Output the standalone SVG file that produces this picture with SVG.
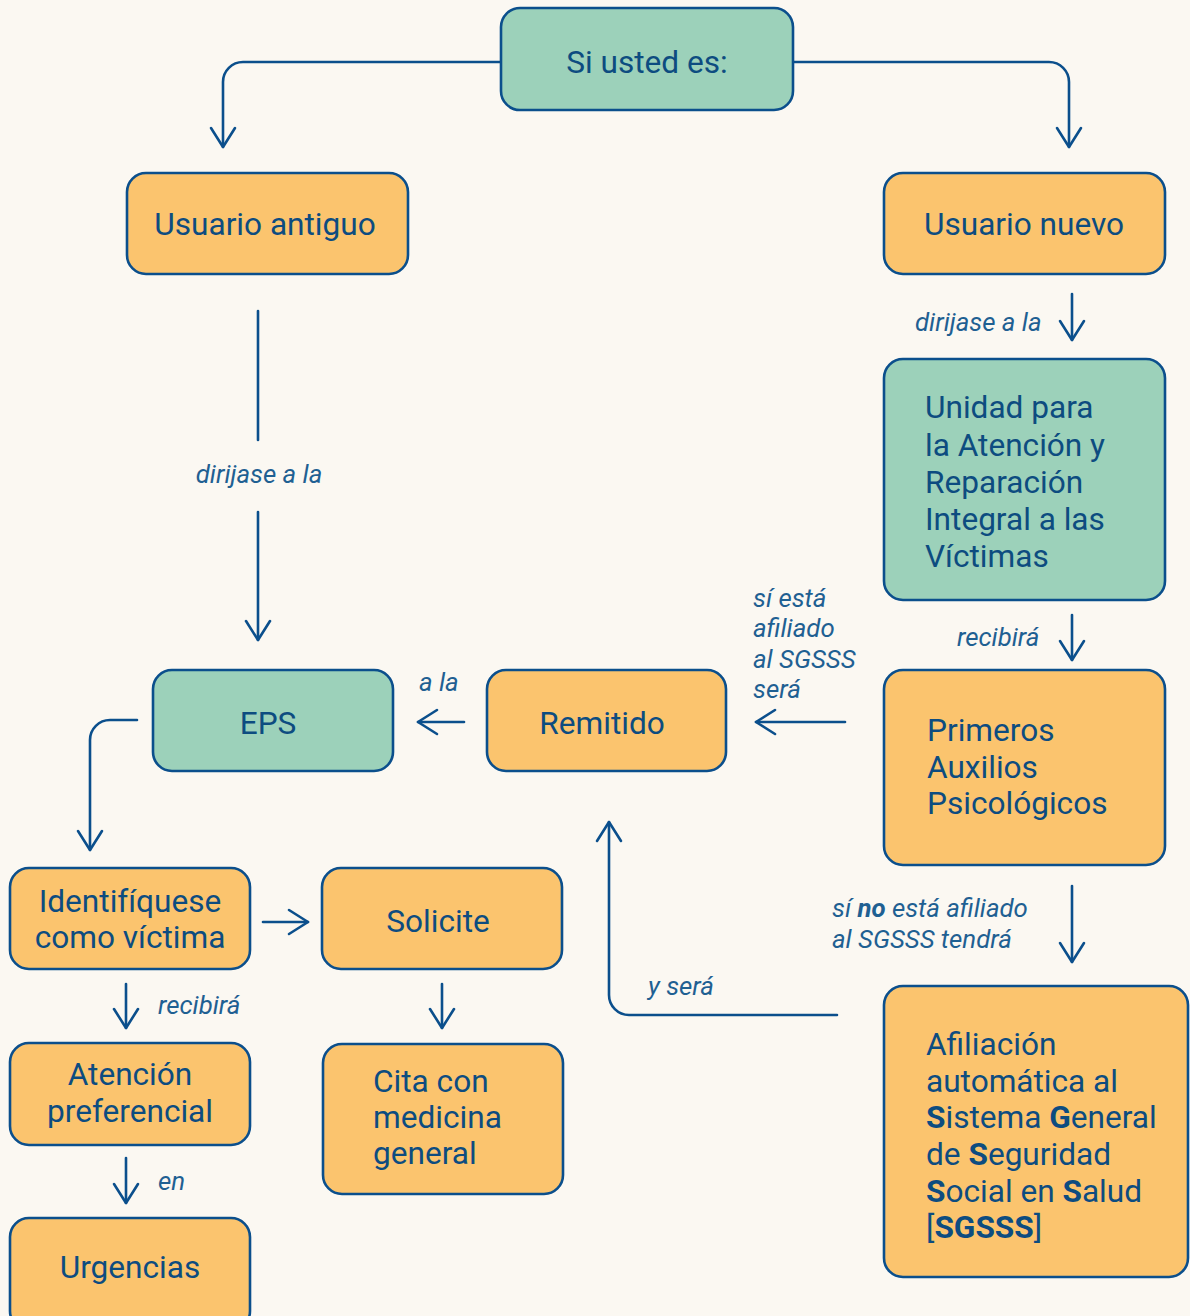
<svg xmlns="http://www.w3.org/2000/svg" width="1190" height="1316" viewBox="0 0 1190 1316">
<defs>
<style>
.bg{fill:#FBF8F2}
.g{fill:#9CD1BA;stroke:#0B4F8C;stroke-width:2.6}
.o{fill:#FBC46E;stroke:#0B4F8C;stroke-width:2.6}
.t{font-family:Roboto,"Liberation Sans",sans-serif;font-size:31.6px;fill:#0D4C80}
.c{text-anchor:middle}
.l{font-family:Roboto,"Liberation Sans",sans-serif;font-size:25.8px;font-style:italic;fill:#1F6092}
.b{font-weight:bold}
.ln{fill:none;stroke:#0B4F8C;stroke-width:2.6;stroke-linecap:round;stroke-linejoin:round}
</style>
<marker id="arr" viewBox="-22 -15 25 30" refX="0" refY="0" markerWidth="25" markerHeight="30" markerUnits="userSpaceOnUse" orient="auto">
<path d="M-19,-12 L0,0 L-19,12" fill="none" stroke="#0B4F8C" stroke-width="2.6" stroke-linecap="round" stroke-linejoin="round"/>
</marker>
</defs>
<rect class="bg" x="0" y="0" width="1190" height="1316"/>

<g id="connectors">
<path class="ln" d="M501,62 H243 A20,20 0 0 0 223,82 V147" marker-end="url(#arr)"/>
<path class="ln" d="M793,62 H1049 A20,20 0 0 1 1069,82 V147" marker-end="url(#arr)"/>
<path class="ln" d="M258,311 V440"/>
<path class="ln" d="M258,512 V640" marker-end="url(#arr)"/>
<path class="ln" d="M1072,294 V340" marker-end="url(#arr)"/>
<path class="ln" d="M1072,615 V660" marker-end="url(#arr)"/>
<path class="ln" d="M845,722 H756" marker-end="url(#arr)"/>
<path class="ln" d="M464,722 H418" marker-end="url(#arr)"/>
<path class="ln" d="M137,720 H110 A20,20 0 0 0 90,740 V850" marker-end="url(#arr)"/>
<path class="ln" d="M263,922 H308" marker-end="url(#arr)"/>
<path class="ln" d="M442,984 V1028" marker-end="url(#arr)"/>
<path class="ln" d="M126,984 V1028" marker-end="url(#arr)"/>
<path class="ln" d="M126,1158 V1203" marker-end="url(#arr)"/>
<path class="ln" d="M1072,886 V962" marker-end="url(#arr)"/>
<path class="ln" d="M837,1015 H629 A20,20 0 0 1 609,995 V822" marker-end="url(#arr)"/>
<text class="l" x="259" y="483" text-anchor="middle">dirijase a la</text>
<text class="l" x="915" y="331">dirijase a la</text>
<text class="l" x="957" y="646">recibirá</text>
<text class="l" x="753" y="607">sí está</text>
<text class="l" x="753" y="637">afiliado</text>
<text class="l" x="753" y="668">al SGSSS</text>
<text class="l" x="753" y="698">será</text>
<text class="l" x="419" y="691">a la</text>
<text class="l" x="832" y="917">sí <tspan class="b">no</tspan> está afiliado</text>
<text class="l" x="832" y="948">al SGSSS tendrá</text>
<text class="l" x="648" y="995">y será</text>
<text class="l" x="158" y="1014">recibirá</text>
<text class="l" x="158" y="1190">en</text>
</g>

<g id="n-si">
<rect class="g" x="501" y="8" width="292" height="102" rx="19"/>
<text class="t c" x="647" y="73">Si usted es:</text>
</g>
<g id="n-antiguo">
<rect class="o" x="127" y="173" width="281" height="101" rx="19"/>
<text class="t c" x="265" y="235">Usuario antiguo</text>
</g>
<g id="n-nuevo">
<rect class="o" x="884" y="173" width="281" height="101" rx="19"/>
<text class="t c" x="1024" y="235">Usuario nuevo</text>
</g>
<g id="n-unidad">
<rect class="g" x="884" y="359" width="281" height="241" rx="19"/>
<text class="t" x="925" y="418">Unidad para</text>
<text class="t" x="925" y="456">la Atención y</text>
<text class="t" x="925" y="493">Reparación</text>
<text class="t" x="925" y="530">Integral a las</text>
<text class="t" x="925" y="567">Víctimas</text>
</g>
<g id="n-primeros">
<rect class="o" x="884" y="670" width="281" height="195" rx="19"/>
<text class="t" x="927" y="741">Primeros</text>
<text class="t" x="927" y="778">Auxilios</text>
<text class="t" x="927" y="814">Psicológicos</text>
</g>
<g id="n-remitido">
<rect class="o" x="487" y="670" width="239" height="101" rx="19"/>
<text class="t c" x="602" y="734">Remitido</text>
</g>
<g id="n-eps">
<rect class="g" x="153" y="670" width="240" height="101" rx="19"/>
<text class="t c" x="268" y="734">EPS</text>
</g>
<g id="n-identifiquese">
<rect class="o" x="10" y="868" width="240" height="101" rx="19"/>
<text class="t c" x="130" y="912">Identifíquese</text>
<text class="t c" x="130" y="948">como víctima</text>
</g>
<g id="n-solicite">
<rect class="o" x="322" y="868" width="240" height="101" rx="19"/>
<text class="t c" x="438" y="932">Solicite</text>
</g>
<g id="n-atencion">
<rect class="o" x="10" y="1043" width="240" height="102" rx="19"/>
<text class="t c" x="130" y="1085">Atención</text>
<text class="t c" x="130" y="1122">preferencial</text>
</g>
<g id="n-cita">
<rect class="o" x="323" y="1044" width="240" height="150" rx="19"/>
<text class="t" x="373" y="1092">Cita con</text>
<text class="t" x="373" y="1128">medicina</text>
<text class="t" x="373" y="1164">general</text>
</g>
<g id="n-urgencias">
<rect class="o" x="10" y="1218" width="240" height="112" rx="19"/>
<text class="t c" x="130" y="1278">Urgencias</text>
</g>
<g id="n-afiliacion">
<rect class="o" x="884" y="986" width="304" height="291" rx="19"/>
<text class="t" x="926" y="1055">Afiliación</text>
<text class="t" x="926" y="1092">automática al</text>
<text class="t" x="926" y="1128"><tspan class="b">S</tspan>istema <tspan class="b">G</tspan>eneral</text>
<text class="t" x="926" y="1165">de <tspan class="b">S</tspan>eguridad</text>
<text class="t" x="926" y="1202"><tspan class="b">S</tspan>ocial en <tspan class="b">S</tspan>alud</text>
<text class="t" x="926" y="1238">[<tspan class="b">SGSSS</tspan>]</text>
</g>
</svg>
